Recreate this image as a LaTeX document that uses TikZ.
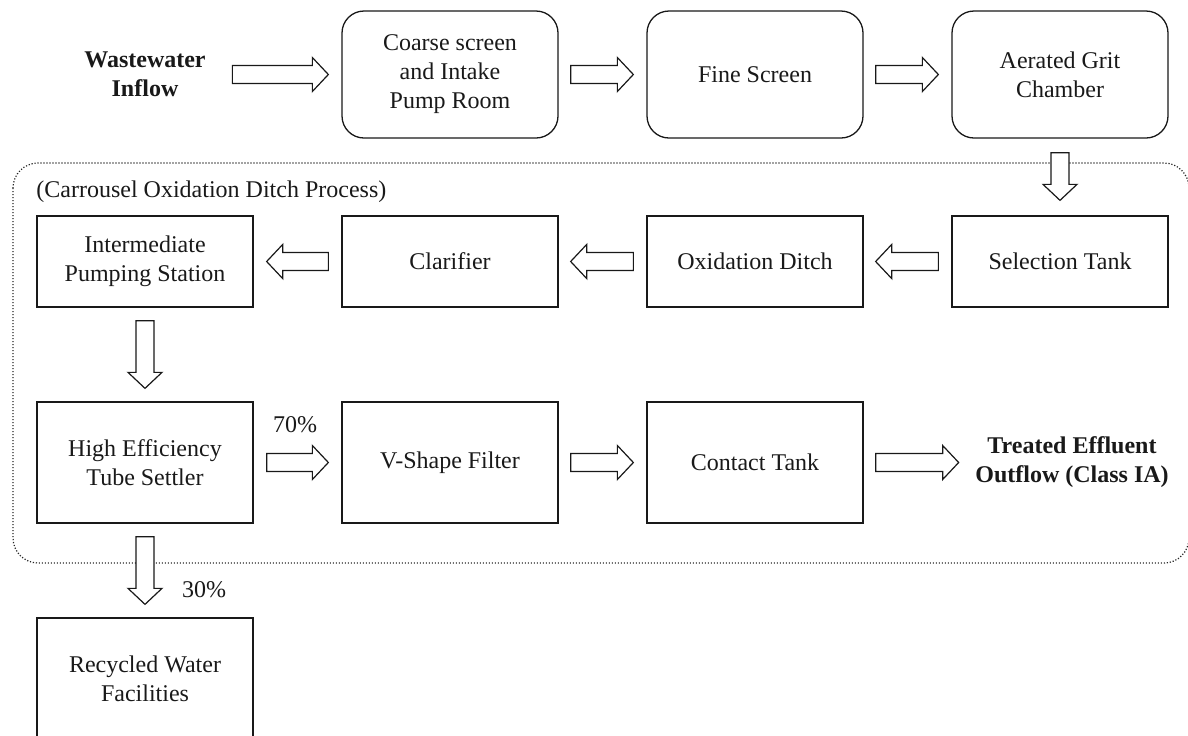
\documentclass[tikz,border=0pt]{standalone}
\usepackage{fontspec}
\setmainfont{Liberation Serif}
\usetikzlibrary{calc}
\tikzset{
 box/.style={draw=black!90, line width=0.65pt, minimum width=108pt, inner sep=0pt, align=center, text=black!90, font=\fontsize{12}{14.5}\selectfont},
 rbox/.style={box, rounded corners=11pt, minimum height=63.5pt},
 mbox/.style={box, minimum height=45.5pt},
 bbox/.style={box, minimum height=60.5pt},
 lbl/.style={inner sep=0pt, align=center, text=black!90, font=\fontsize{12}{14.5}\selectfont},
 blabel/.style={inner sep=0pt, align=center, text=black!90, font=\bfseries\fontsize{12}{14.5}\selectfont},
 blk/.style={draw=black!90, line width=0.6pt, fill=white, line join=miter},
 region/.style={draw=black!85, line width=0.6pt, dash pattern=on 0.6pt off 0.9pt, rounded corners=12.5pt}
}
\newcommand\flowR[2]{\draw[blk] let \p1=(#1),\p2=(#2) in (\x1,\y1+4.5pt) -- (\x2-8pt,\y1+4.5pt) -- (\x2-8pt,\y1+8.5pt) -- (\x2,\y1) -- (\x2-8pt,\y1-8.5pt) -- (\x2-8pt,\y1-4.5pt) -- (\x1,\y1-4.5pt) -- cycle;}
\newcommand\flowL[2]{\draw[blk] let \p1=(#1),\p2=(#2) in (\x1,\y1+4.5pt) -- (\x2+8pt,\y1+4.5pt) -- (\x2+8pt,\y1+8.5pt) -- (\x2,\y1) -- (\x2+8pt,\y1-8.5pt) -- (\x2+8pt,\y1-4.5pt) -- (\x1,\y1-4.5pt) -- cycle;}
\newcommand\flowD[2]{\draw[blk] let \p1=(#1),\p2=(#2) in (\x1-4.5pt,\y1) -- (\x1-4.5pt,\y2+8pt) -- (\x1-8.5pt,\y2+8pt) -- (\x1,\y2) -- (\x1+8.5pt,\y2+8pt) -- (\x1+4.5pt,\y2+8pt) -- (\x1+4.5pt,\y1) -- cycle;}
\begin{document}
\begin{tikzpicture}[x=0.5pt,y=-0.5pt]
\useasboundingbox (0,0) rectangle (1188,735);
% region
\draw[region] (13,163) rectangle (1189,563);
\node[lbl, anchor=west] (proc) at (36,192) {(Carrousel Oxidation Ditch Process)};
% top row
\node[blabel] (ww) at (145,74.5) {Wastewater\\Inflow};
\node[rbox] (coarse) at (450,74.5) {Coarse screen\\and Intake\\Pump Room};
\node[rbox] (fine) at (755,74.5) {Fine Screen};
\node[rbox] (aer) at (1060,74.5) {Aerated Grit\\Chamber};
% middle row
\node[mbox] (inter) at (145,261.5) {Intermediate\\Pumping Station};
\node[mbox] (clar) at (450,261.5) {Clarifier};
\node[mbox] (oxd) at (755,261.5) {Oxidation Ditch};
\node[mbox] (sel) at (1060,261.5) {Selection Tank};
% bottom row
\node[bbox] (high) at (145,462.5) {High Efficiency\\Tube Settler};
\node[bbox] (vsf) at (450,462.5) {V-Shape Filter};
\node[bbox] (cont) at (755,462.5) {Contact Tank};
\node[blabel] (out) at (1072,462.5) {Treated Effluent\\Outflow (Class IA)};
\node[bbox] (rec) at (145,678.5) {Recycled Water\\Facilities};
% percentages
\node[lbl] (p70) at (295,425) {70\%};
\node[lbl] (p30) at (204,590) {30\%};
% connectors
\flowR{$(coarse.west)+(-109,0)$}{$(coarse.west)+(-13,0)$}
\flowR{$(coarse.east)+(12,0)$}{$(fine.west)+(-13,0)$}
\flowR{$(fine.east)+(12,0)$}{$(aer.west)+(-13,0)$}
\flowD{$(aer.south)+(0,14)$}{$(sel.north)+(0,-15)$}
\flowL{$(sel.west)+(-13,0)$}{$(oxd.east)+(12,0)$}
\flowL{$(oxd.west)+(-13,0)$}{$(clar.east)+(12,0)$}
\flowL{$(clar.west)+(-13,0)$}{$(inter.east)+(13,0)$}
\flowD{$(inter.south)+(0,13)$}{$(high.north)+(0,-13)$}
\flowR{$(high.east)+(13,0)$}{$(vsf.west)+(-13,0)$}
\flowR{$(vsf.east)+(12,0)$}{$(cont.west)+(-13,0)$}
\flowR{$(cont.east)+(12,0)$}{$(cont.east)+(95,0)$}
\flowD{$(high.south)+(0,13)$}{$(rec.north)+(0,-13)$}
\end{tikzpicture}
\end{document}
